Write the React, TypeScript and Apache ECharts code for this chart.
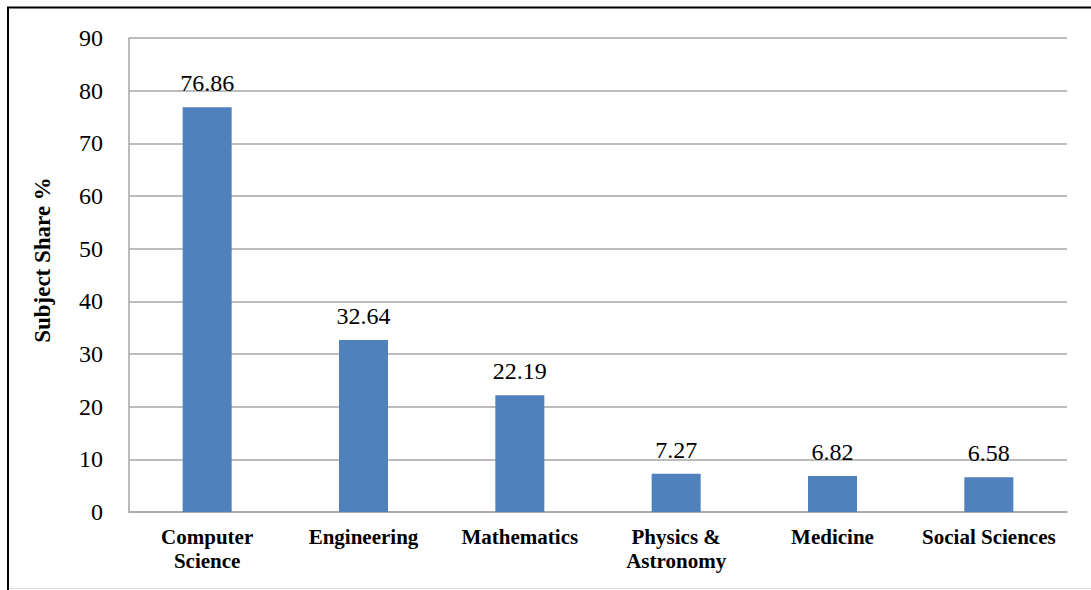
import React, { useEffect, useRef } from "react";
import * as echarts from "echarts";

const categories = [
  "Computer\nScience",
  "Engineering",
  "Mathematics",
  "Physics &\nAstronomy",
  "Medicine",
  "Social Sciences",
];
const values = [76.86, 32.64, 22.19, 7.27, 6.82, 6.58];
const yTicks = { min: 0, max: 90, interval: 10 };
const yTitle = "Subject Share %";

const FONT = "Liberation Serif";

export default function App() {
  const ref = useRef<HTMLDivElement>(null);
  useEffect(() => {
    if (!ref.current) return;
    const chart = echarts.init(ref.current, null, { renderer: "svg" });
    chart.setOption({
      animation: false,
      backgroundColor: "#ffffff",
      textStyle: { fontFamily: FONT },
      grid: { left: 129, top: 38, right: 24, bottom: 78, containLabel: false },
      xAxis: {
        type: "category",
        data: categories,
        axisLine: { lineStyle: { color: "#a6a6a6", width: 1.5 } },
        axisTick: { show: false },
        axisLabel: {
          fontFamily: FONT,
          fontWeight: "bold",
          fontSize: 21,
          lineHeight: 24,
          color: "#000",
          margin: 13,
          interval: 0,
        },
      },
      yAxis: {
        type: "value",
        min: yTicks.min,
        max: yTicks.max,
        interval: yTicks.interval,
        axisLine: { show: true, lineStyle: { color: "#a6a6a6", width: 1.5 } },
        axisTick: { show: false },
        splitLine: { lineStyle: { color: "#a6a6a6", width: 1.5 } },
        axisLabel: {
          fontFamily: FONT,
          fontSize: 24,
          color: "#000",
          margin: 26,
        },
      },
      graphic: [
        {
          type: "polyline",
          shape: { points: [[8, 590], [8, 7.5], [1091, 7.5]] },
          style: { stroke: "#000", lineWidth: 2, fill: null },
          z: 100,
        },
        {
          type: "line",
          shape: { x1: 9, y1: 588.5, x2: 1091, y2: 588.5 },
          style: { stroke: "#d9d9d9", lineWidth: 1 },
          z: 100,
        },
        {
          type: "text",
          x: 42,
          y: 260,
          rotation: Math.PI / 2,
          style: {
            text: yTitle,
            fontFamily: FONT,
            fontWeight: "bold",
            fontSize: 23,
            fill: "#000",
            align: "center",
            verticalAlign: "middle",
          },
        },
      ],
      series: [
        {
          type: "bar",
          data: values,
          barWidth: 49,
          itemStyle: { color: "#4f81bd" },
          label: {
            show: true,
            position: "top",
            distance: 12,
            fontFamily: FONT,
            fontSize: 24,
            color: "#000",
            formatter: (p: any) => p.value.toFixed(2),
          },
        },
      ],
    });
    return () => chart.dispose();
  }, []);
  return (
    <div
      ref={ref}
      style={{ position: "absolute", left: 0, top: 0, width: 1091, height: 590 }}
    />
  );
}
